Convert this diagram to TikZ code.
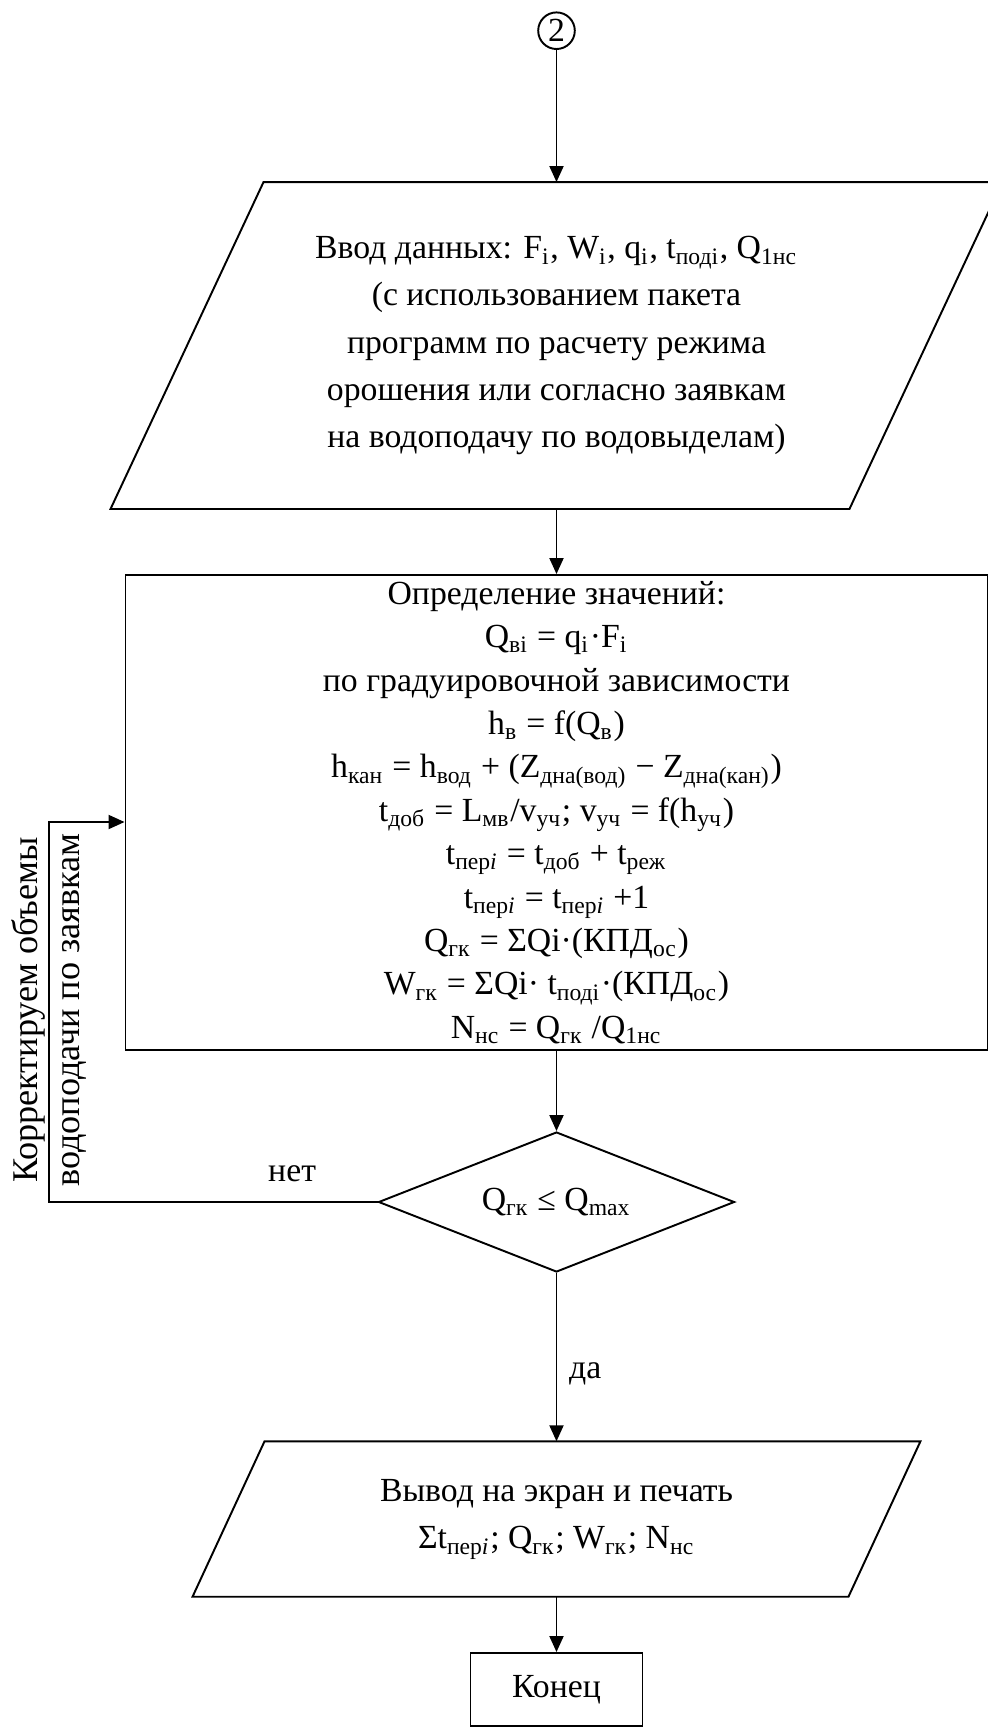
\documentclass[tikz,border=0pt]{standalone}
\usepackage{fontspec}
\setmainfont{Liberation Serif}
\usetikzlibrary{arrows.meta,shapes.geometric,calc}
\newcommand{\sbs}[1]{\textsubscript{#1}}

\begin{document}
\begin{tikzpicture}[
		>={Triangle[length=1.6mm, width=1.4mm]},
		line width=0.55pt,
		every node/.style={font=\fontsize{9.6pt}{13.4pt}\selectfont},
		iotext/.style={align=center, inner sep=0pt},
		procbox/.style={draw, align=center, inner sep=0pt, font=\fontsize{9.6pt}{12.35pt}\selectfont},
		decbox/.style={diamond, draw, aspect=2.5, inner sep=0pt, minimum width=3.56cm, minimum height=1.4cm}
	]
		\useasboundingbox (0, 0) rectangle (9.88, -17.28);
		\draw (5.565, -0.307) node [circle, draw, minimum size=0.366cm, inner sep=0pt] (c2) {2};
		\draw (5.565, -3.455) node [iotext, minimum width=5.84cm, minimum height=3.25cm] (in) {Ввод данных: F\sbs{i}, W\sbs{i}, q\sbs{i}, t\sbs{подi}, Q\sbs{1нс}\\(с использованием пакета\\программ по расчету режима\\орошения или согласно заявкам\\на водоподачу по водовыделам)};
		\draw (in.north west) -- ($(in.north east) + (1.53, 0)$) -- (in.south east) -- ($(in.south west) + (-1.53, 0)$) -- cycle;
		\draw (5.565, -8.125) node [procbox, minimum width=8.62cm, minimum height=4.75cm] (calc) {Определение значений:\\Q\sbs{вi} = q\sbs{i}·F\sbs{i}\\по градуировочной зависимости\\h\sbs{в} = f(Q\sbs{в})\\h\sbs{кан} = h\sbs{вод} + (Z\sbs{дна(вод)} − Z\sbs{дна(кан)})\\t\sbs{доб} = L\sbs{мв}/v\sbs{уч}; v\sbs{уч} = f(h\sbs{уч})\\t\sbs{пер\textit{i}} = t\sbs{доб} + t\sbs{реж}\\t\sbs{пер\textit{i}} = t\sbs{пер\textit{i}} +1\\Q\sbs{гк} = ΣQi·(КПД\sbs{ос})\\W\sbs{гк} = ΣQi· t\sbs{подi}·(КПД\sbs{ос})\\N\sbs{нс} = Q\sbs{гк} /Q\sbs{1нс}};
		\draw (5.565, -12.02) node [decbox] (dec) {Q\sbs{гк} ≤ Q\sbs{max}};
		\draw (5.565, -15.19) node [iotext, minimum width=5.82cm, minimum height=1.535cm, font=\fontsize{9.6pt}{13.6pt}\selectfont] (out) {Вывод на экран и печать\\Σt\sbs{пер\textit{i}}; Q\sbs{гк}; W\sbs{гк}; N\sbs{нс}};
		\draw (out.north west) -- ($(out.north east) + (0.72, 0)$) -- (out.south east) -- ($(out.south west) + (-0.72, 0)$) -- cycle;
		\draw (5.565, -16.895) node [rectangle, draw, minimum width=1.72cm, minimum height=0.73cm] (end) {Конец};
		\draw (0.49, -10.1) node [rotate=90, align=center, inner sep=0pt, font=\fontsize{10.3pt}{11.7pt}\selectfont] (note) {Корректируем объемы\\водоподачи по заявкам};
		\coordinate (fb) at (0.49, -8.22);
		\path [->] (c2) edge (in);
		\path [->] (in) edge (calc);
		\path [->] (calc) edge (dec);
		\path [->] (dec) edge node [right, pos=0.6] {да} (out);
		\path [->] (out) edge (end);
		\draw [->] (dec.west) -| node [above=0.8mm, pos=0.13] {нет} (fb) -- (fb -| calc.west);
	\end{tikzpicture}
\end{document}
